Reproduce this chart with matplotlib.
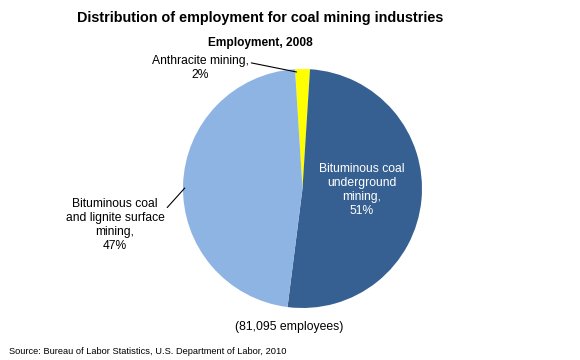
import matplotlib.pyplot as plt

# data
categories = ["Anthracite mining,", "Bituminous coal\nunderground\nmining,",
              "Bituminous coal\nand lignite surface\nmining,"]
shares = [2, 51, 47]
colors = ["#FFFF00", "#376092", "#8EB4E3"]
total_employees = "81,095"

plt.rcParams['font.family'] = ['Liberation Sans', 'DejaVu Sans']

W, H = 580, 360
fig = plt.figure(figsize=(W / 100, H / 100), dpi=100)

def fx(x):
    return x / W

def fy(y):
    return 1 - y / H

# pie area in pixels
cx, cy, r = 302.5, 188.5, 119.5
ax = fig.add_axes([fx(cx - r), fy(cy + r), 2 * r / W, 2 * r / H])
ax.pie(shares, colors=colors, startangle=90 + shares[0] * 3.6 / 2,
       counterclock=False, radius=1,
       wedgeprops=dict(linewidth=0))
ax.set_xlim(-1, 1)
ax.set_ylim(-1, 1)
ax.set_aspect("equal")
ax.axis("off")

fig.text(fx(260.5), fy(18), "Distribution of employment for coal mining industries",
         ha="center", va="center", fontsize=10.4, fontweight="bold")
fig.text(fx(260.5), fy(43), "Employment, 2008", ha="center", va="center",
         fontsize=8.6, fontweight="bold")

lab = dict(fontsize=8.7, ha="center", va="center", linespacing=1.2)

# anthracite label + leader
ax.annotate(f"{categories[0]}\n{shares[0]}%", xy=(-0.05, 0.975),
            xytext=((200 - cx) / r, (cy - 68) / r), textcoords="data",
            arrowprops=dict(arrowstyle="-", color="black", lw=0.8,
                            shrinkA=0, shrinkB=0, relpos=(1.0, 0.72)),
            annotation_clip=False, **lab)

# surface mining label + leader (short flat piece, then diagonal)
ax.annotate(f"{categories[2]}\n{shares[2]}%", xy=(-0.985, (cy - 188) / r),
            xytext=((115 - cx) / r, (cy - 225) / r), textcoords="data",
            arrowprops=dict(arrowstyle="-", color="black", lw=0.8,
                            shrinkA=0, shrinkB=0, relpos=(0.98, 0.76),
                            connectionstyle="angle,angleA=0,angleB=48,rad=0"),
            annotation_clip=False, **lab)

# underground label inside slice
ax.text((362 - cx) / r, (cy - 190) / r, f"{categories[1]}\n{shares[1]}%",
        color="white", **lab)

fig.text(fx(289), fy(327), f"({total_employees} employees)", ha="center",
         va="center", fontsize=8.8)
fig.text(fx(9), fy(352), "Source: Bureau of Labor Statistics, U.S. Department of Labor, 2010",
         ha="left", va="center", fontsize=6.7)

fig.savefig("out.png", dpi=100)
